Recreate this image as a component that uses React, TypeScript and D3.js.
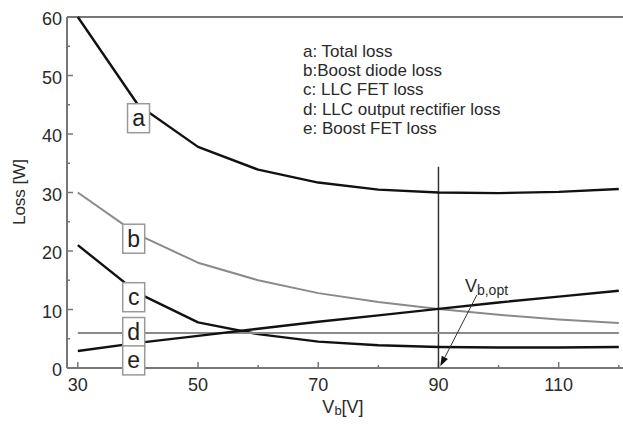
import React from "react";
import * as d3 from "d3";

const vb = [30, 40, 50, 60, 70, 80, 90, 100, 110, 120];
const totalLoss = [60, 45, 37.8, 33.9, 31.7, 30.5, 30.0, 29.9, 30.1, 30.6];
const boostDiode = [30, 22.8, 18, 15, 12.8, 11.3, 10.1, 9.1, 8.3, 7.7];
const llcFet = [21, 12.8, 7.8, 5.8, 4.5, 3.9, 3.6, 3.5, 3.5, 3.6];
const llcRect = [6, 6, 6, 6, 6, 6, 6, 6, 6, 6];
const boostFet = [2.9, 4.3, 5.5, 6.7, 7.9, 9.0, 10.1, 11.2, 12.2, 13.2];

const xMajor = [30, 50, 70, 90, 110];
const xMinor = [40, 60, 80, 100, 120];
const yMajor = [0, 10, 20, 30, 40, 50, 60];
const yMinor = [5, 15, 25, 35, 45, 55];

const legendLines = [
  "a: Total loss",
  "b:Boost diode loss",
  "c: LLC FET loss",
  "d: LLC output rectifier loss",
  "e: Boost FET loss",
];

const curveLabels = [
  { t: "a", x: 40.1, y: 42.7 },
  { t: "b", x: 39.3, y: 22.1 },
  { t: "c", x: 39.3, y: 12.1 },
  { t: "d", x: 39.3, y: 6.15 },
  { t: "e", x: 39.3, y: 1.3 },
];

const vbOpt = 90;
const vbOptTop = 34.4;
const arrowFrom = { x: 96.4, y: 12.5 };
const arrowTo = { x: 90.3, y: 0.3 };
const optLabel = { x: 94.4, y: 13.0 };

export default function App() {
  const W = 623, H = 424;
  const x = d3.scaleLinear().domain([28.2, 120.7]).range([67, 623]);
  const y = d3.scaleLinear().domain([0, 60]).range([368, 17]);
  const line = (vals: number[]) =>
    d3.line<number>().x((_, i) => x(vb[i])).y((v) => y(v))(vals) || "";

  const series = [
    { v: totalLoss, c: "#111", w: 2.4 },
    { v: boostDiode, c: "#8a8a8a", w: 2 },
    { v: llcFet, c: "#111", w: 2.4 },
    { v: llcRect, c: "#8a8a8a", w: 2 },
    { v: boostFet, c: "#111", w: 2.4 },
  ];
  const font = "Liberation Sans, Arial, sans-serif";
  const axisColor = "#777";
  const textColor = "#2a2a2a";

  const ax0 = x(arrowFrom.x), ay0 = y(arrowFrom.y);
  const ax1 = x(arrowTo.x), ay1 = y(arrowTo.y);
  const ang = Math.atan2(ay1 - ay0, ax1 - ax0);
  const hl = 10, hw = 3.5;
  const bx = ax1 - hl * Math.cos(ang), by = ay1 - hl * Math.sin(ang);
  const head = `M${ax1},${ay1} L${bx + hw * Math.sin(ang)},${by - hw * Math.cos(ang)} L${bx - hw * Math.sin(ang)},${by + hw * Math.cos(ang)} Z`;

  return (
    <svg width={W} height={H} style={{ position: "absolute", left: 0, top: 0, background: "#fff" }} fontFamily={font}>
      <rect x={0} y={0} width={W} height={H} fill="#fff" />
      {/* frame */}
      <line x1={x.range()[0]} x2={623} y1={y(60)} y2={y(60)} stroke={axisColor} strokeWidth={2.2} />
      <line x1={x.range()[0]} x2={x.range()[0]} y1={y(60)} y2={y(0)} stroke={axisColor} strokeWidth={2} />
      <line x1={x.range()[0]} x2={623} y1={y(0)} y2={y(0)} stroke={axisColor} strokeWidth={2.2} />
      {/* ticks */}
      {xMajor.map((t) => (
        <g key={"xm" + t}>
          <line x1={x(t)} x2={x(t)} y1={y(0)} y2={y(0) - 6} stroke={axisColor} strokeWidth={1.5} />
          <text x={x(t)} y={391} textAnchor="middle" fontSize={18} fill={textColor}>{t}</text>
        </g>
      ))}
      {xMinor.map((t) => (
        <line key={"xn" + t} x1={x(t)} x2={x(t)} y1={y(0)} y2={y(0) - 3} stroke={axisColor} strokeWidth={1.5} />
      ))}
      {yMajor.map((t) => (
        <g key={"ym" + t}>
          <line x1={x.range()[0]} x2={x.range()[0] + 6} y1={y(t)} y2={y(t)} stroke={axisColor} strokeWidth={1.5} />
          <text x={62} y={y(t) + 8} textAnchor="end" fontSize={18} fill={textColor}>{t}</text>
        </g>
      ))}
      {yMinor.map((t) => (
        <line key={"yn" + t} x1={x.range()[0]} x2={x.range()[0] + 3} y1={y(t)} y2={y(t)} stroke={axisColor} strokeWidth={1.5} />
      ))}
      {/* axis titles */}
      <text transform={`translate(25,192) rotate(-90)`} textAnchor="middle" fontSize={17} fill={textColor}>Loss [W]</text>
      <text x={343} y={413} textAnchor="middle" fontSize={18} fill={textColor}>
        V<tspan fontSize={13} dy={2}>b</tspan><tspan dy={-2}>[V]</tspan>
      </text>
      {/* optimum vertical line */}
      <line x1={x(vbOpt)} x2={x(vbOpt)} y1={y(vbOptTop)} y2={y(0)} stroke="#333" strokeWidth={1.5} />
      {/* series */}
      {series.map((s, i) => (
        <path key={i} d={line(s.v)} fill="none" stroke={s.c} strokeWidth={s.w} strokeLinejoin="round" />
      ))}
      {/* arrow */}
      <line x1={ax0} y1={ay0} x2={bx} y2={by} stroke="#333" strokeWidth={1} />
      <path d={head} fill="#111" />
      <text x={x(optLabel.x)} y={y(optLabel.y)} fontSize={18} fill={textColor}>
        V<tspan fontSize={14} dy={3}>b,opt</tspan>
      </text>
      {/* curve labels */}
      {curveLabels.map((l) => (
        <g key={l.t}>
          <rect x={x(l.x) - 11} y={y(l.y) - 14.5} width={22} height={29} fill="#fff" stroke="#999" strokeWidth={1.5} />
          <text x={x(l.x)} y={y(l.y) + 8} textAnchor="middle" fontSize={23} fill="#222">{l.t}</text>
        </g>
      ))}
      {/* legend */}
      {legendLines.map((t, i) => (
        <text key={t} x={303} y={57 + i * 19.2} fontSize={17} fill={textColor}>{t}</text>
      ))}
    </svg>
  );
}
